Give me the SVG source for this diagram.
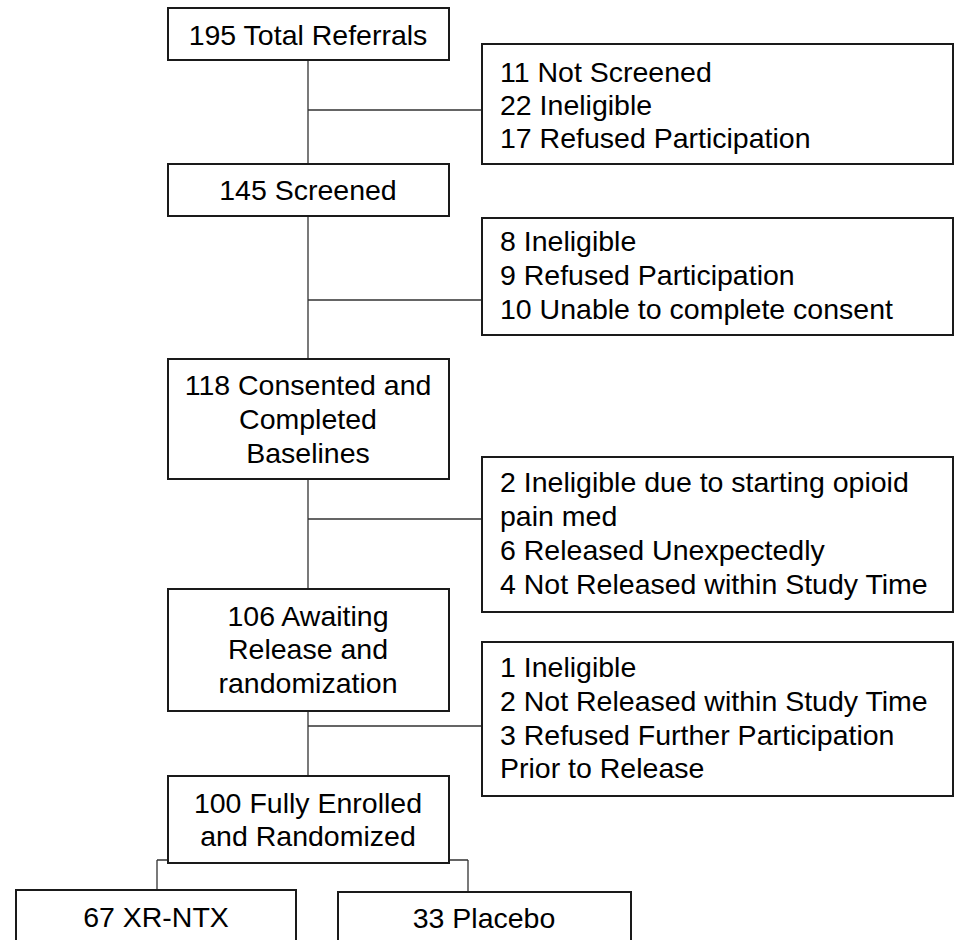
<svg xmlns="http://www.w3.org/2000/svg" width="954" height="940" viewBox="0 0 954 940">
<style>
.box{fill:#fff;stroke:#1a1a1a;stroke-width:2}
.con{fill:none;stroke:#333;stroke-width:1.3}
text{font-family:"Liberation Sans",Arial,sans-serif;font-size:28.5px;fill:#000}
.c{text-anchor:middle}
</style>
<rect width="954" height="940" fill="#fff"/>
<g id="connectors">
<path class="con" d="M308 60V164M308 110H482"/>
<path class="con" d="M308 216V359M308 300H482"/>
<path class="con" d="M308 479V589M308 519H482"/>
<path class="con" d="M308 711V776M308 726H482"/>
<path class="con" d="M157 860H468M157 860V890M468 860V892M308 860V863"/>
</g>
<g id="n195"><rect class="box" x="168" y="8" width="281" height="52"/><text class="c" x="308" y="45">195 Total Referrals</text></g>
<g id="exA"><rect class="box" x="482" y="44" width="471" height="120"/>
<text x="500" y="82">11 Not Screened</text><text x="500" y="115">22 Ineligible</text><text x="500" y="148">17 Refused Participation</text></g>
<g id="n145"><rect class="box" x="168" y="164" width="281" height="52"/><text class="c" x="308" y="200">145 Screened</text></g>
<g id="exB"><rect class="box" x="482" y="218" width="471" height="117"/>
<text x="500" y="251">8 Ineligible</text><text x="500" y="285">9 Refused Participation</text><text x="500" y="319">10 Unable to complete consent</text></g>
<g id="n118"><rect class="box" x="168" y="359" width="281" height="120"/>
<text class="c" x="308" y="395">118 Consented and</text><text class="c" x="308" y="429">Completed</text><text class="c" x="308" y="463">Baselines</text></g>
<g id="exC"><rect class="box" x="482" y="457" width="471" height="155"/>
<text x="500" y="492">2 Ineligible due to starting opioid</text><text x="500" y="526">pain med</text><text x="500" y="560">6 Released Unexpectedly</text><text x="500" y="594">4 Not Released within Study Time</text></g>
<g id="n106"><rect class="box" x="168" y="589" width="281" height="122"/>
<text class="c" x="308" y="626">106 Awaiting</text><text class="c" x="308" y="659">Release and</text><text class="c" x="308" y="693">randomization</text></g>
<g id="exD"><rect class="box" x="482" y="642" width="471" height="154"/>
<text x="500" y="677">1 Ineligible</text><text x="500" y="711">2 Not Released within Study Time</text><text x="500" y="745">3 Refused Further Participation</text><text x="500" y="778">Prior to Release</text></g>
<g id="n100"><rect class="box" x="168" y="776" width="281" height="87"/>
<text class="c" x="308" y="813">100 Fully Enrolled</text><text class="c" x="308" y="846">and Randomized</text></g>
<g id="xr"><rect class="box" x="16" y="890" width="280" height="70"/><text class="c" x="156" y="927">67 XR-NTX</text></g>
<g id="pl"><rect class="box" x="338" y="892" width="293" height="70"/><text class="c" x="484" y="928">33 Placebo</text></g>
</svg>
